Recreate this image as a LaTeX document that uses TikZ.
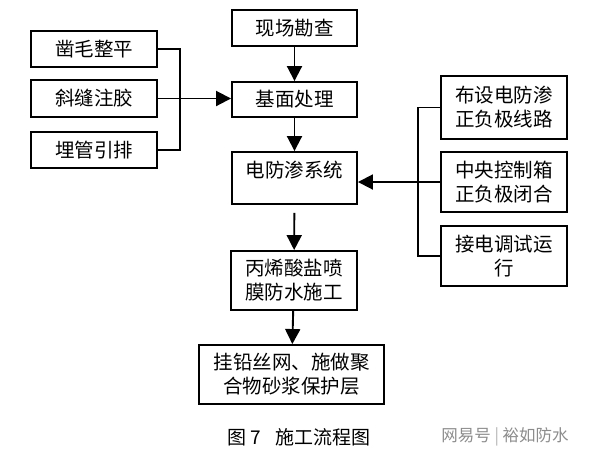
\documentclass[tikz,border=0pt]{standalone}
\usepackage{fontspec}
\newfontfamily\cjk{Noto Sans CJK SC}
\usetikzlibrary{arrows.meta}
\begin{document}
\begin{tikzpicture}[x=1pt,y=-1pt,
  box/.style={draw, line width=1.9pt, inner sep=0pt, align=center,
    font=\cjk\fontsize{19.5}{24}\selectfont},
  link/.style={line width=1.9pt},
  arr/.style={line width=1.9pt, -{Triangle[length=15pt,width=15pt]}},
  caption/.style={font=\cjk\fontsize{19}{24}\selectfont},
  wmark/.style={font=\cjk\fontsize{16.5}{20}\selectfont, text=black!45}
]
\useasboundingbox (0,0) rectangle (596,456);
% main column
\node[box, minimum width=125pt, minimum height=36pt] (top) at (294.5,28) {现场勘查};
\node[box, minimum width=125pt, minimum height=35pt] (base) at (294.5,99.5) {基面处理};
\node[box, minimum width=125pt, minimum height=52pt] (sys) at (294.5,178) {};
\node[font=\cjk\fontsize{19.5}{24}\selectfont] (systxt) at (294.5,170) {电防渗系统};
\node[box, minimum width=126pt, minimum height=59pt] (acr) at (294,280.5) {丙烯酸盐喷\\膜防水施工};
\node[box, minimum width=185pt, minimum height=59pt] (mesh) at (291.5,374.5) {挂铅丝网、施做聚\\合物砂浆保护层};
% left column
\node[box, minimum width=126pt, minimum height=36pt] (L1) at (94,49) {凿毛整平};
\node[box, minimum width=126pt, minimum height=37pt] (L2) at (94,98.5) {斜缝注胶};
\node[box, minimum width=126pt, minimum height=36pt] (L3) at (94,150) {埋管引排};
% right column
\node[box, minimum width=126pt, minimum height=63pt] (R1) at (504,107.5) {布设电防渗\\正负极线路};
\node[box, minimum width=126pt, minimum height=60pt] (R2) at (504,182) {中央控制箱\\正负极闭合};
\node[box, minimum width=126pt, minimum height=60pt] (R3) at (504,256) {接电调试运\\行};
% junctions
\coordinate (jL) at (180,98.5);
\coordinate (jR) at (418,182);
% connectors
\draw[arr] (top) -- (base);
\draw[arr] (base) -- (sys);
\draw[arr, shorten <=8pt] (sys) -- (acr);
\draw[arr] (acr) -- (mesh);
\draw[link] (L1.east) -| (jL) |- (L3.east);
\draw[arr] (L2.east) -- (base.west |- L2.east);
\draw[link] (R1.west) -| (jR) |- (R3.west);
\draw[arr] (R2.west) -- (sys.east |- R2.west);
% caption and watermark
\node[caption] (cap) at (299,437) {图 7\hspace{14pt}施工流程图};
\node[wmark] (wm) at (505,437) {网易号 {\color{black!30}|} 裕如防水};
\end{tikzpicture}
\end{document}
